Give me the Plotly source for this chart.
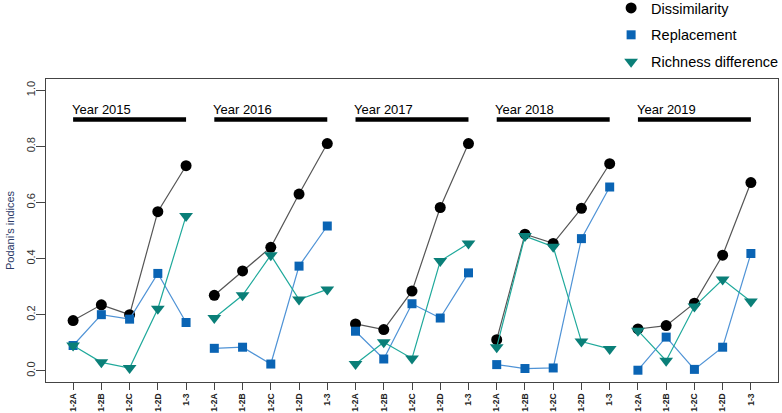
import plotly.graph_objects as go

# data
years = ["2015", "2016", "2017", "2018", "2019"]
sites = ["1-2A", "1-2B", "1-2C", "1-2D", "1-3"]

dissimilarity = [
    [0.179, 0.235, 0.200, 0.567, 0.731],
    [0.269, 0.356, 0.440, 0.630, 0.810],
    [0.167, 0.147, 0.284, 0.582, 0.810],
    [0.111, 0.487, 0.454, 0.579, 0.738],
    [0.149, 0.161, 0.241, 0.412, 0.671],
]
replacement = [
    [0.090, 0.200, 0.184, 0.347, 0.172],
    [0.080, 0.084, 0.024, 0.373, 0.516],
    [0.141, 0.042, 0.239, 0.188, 0.349],
    [0.022, 0.008, 0.010, 0.471, 0.655],
    [0.002, 0.120, 0.005, 0.084, 0.418],
]
richness = [
    [0.090, 0.030, 0.010, 0.221, 0.552],
    [0.188, 0.269, 0.412, 0.254, 0.290],
    [0.024, 0.102, 0.044, 0.391, 0.454],
    [0.084, 0.480, 0.442, 0.104, 0.078],
    [0.143, 0.036, 0.229, 0.325, 0.247],
]

n = len(sites)


def flat(series):
    xs, ys = [], []
    for g, vals in enumerate(series):
        for i, v in enumerate(vals):
            xs.append(g * n + i + 1)
            ys.append(v)
        xs.append(None)
        ys.append(None)
    return xs, ys


styles = [
    ("Dissimilarity", dissimilarity, "#000000", "#555555", "circle", 11),
    ("Replacement", replacement, "#0a64b4", "#4f93d6", "square", 9),
    ("Richness difference", richness, "#0a7f78", "#1fa99b", "triangle-down", 12),
]

fig = go.Figure()
for name, series, mcol, lcol, sym, size in styles:
    xs, ys = flat(series)
    fig.add_trace(go.Scatter(
        x=xs, y=ys, mode="lines+markers", showlegend=False,
        line=dict(color=lcol, width=1.2),
        marker=dict(color=mcol, symbol=sym, size=size, line=dict(width=0)),
    ))
# legend entries (markers only)
for k, (name, series, mcol, lcol, sym, size) in enumerate(styles):
    fig.add_trace(go.Scatter(
        x=[None], y=[None], mode="markers", name=name,
        legendgroup=str(k),
        marker=dict(color=mcol, symbol=sym, size=size, line=dict(width=0)),
    ))

# year labels with black bars
for g, yr in enumerate(years):
    x0 = g * n + 1
    x1 = g * n + n
    fig.add_shape(type="line", x0=x0, x1=x1, y0=0.896, y1=0.896,
                  line=dict(color="black", width=4.5))
    fig.add_annotation(x=x0 - 0.12, y=0.93, text="Year " + yr, showarrow=False,
                       xanchor="left", yanchor="middle",
                       font=dict(size=13, color="black"))

tickvals = [g * n + i + 1 for g in range(len(years)) for i in range(n)]
ticktext = ["<b>" + s + "</b>" for _ in years for s in sites]

fig.update_xaxes(
    range=[0.04, 25.96], tickvals=tickvals, ticktext=ticktext, tickangle=-90,
    showline=True, linecolor="#444", linewidth=1, mirror=True, automargin=False,
    ticks="outside", ticklen=7, tickcolor="#444", showgrid=False, zeroline=False,
    tickfont=dict(size=8.5, color="#222"),
)
fig.update_yaxes(
    range=[-0.04, 1.04], tickvals=[0, 0.2, 0.4, 0.6, 0.8, 1.0],
    ticktext=["0.0", "0.2", "0.4", "0.6", "0.8", "1.0"], tickangle=-90,
    showline=True, linecolor="#444", linewidth=1, mirror=True, automargin=False,
    ticks="outside", ticklen=9, tickcolor="#444", showgrid=False, zeroline=False,
    ticklabelstandoff=-3,
    tickfont=dict(size=11, color="#333"),
    title=dict(text="Podani's indices", font=dict(size=11, color="#2b3a67"), standoff=7),
)

fig.update_layout(
    width=782, height=413,
    margin=dict(l=46, r=4, t=79, b=31, autoexpand=False),
    plot_bgcolor="white", paper_bgcolor="white",
    font=dict(family="Liberation Sans, Arial, sans-serif"),
    legend=dict(x=0.772, y=1.287, xanchor="left", yanchor="top",
                font=dict(size=14.5, color="black"), tracegroupgap=5,
                bgcolor="rgba(0,0,0,0)"),
)

# page body has a default 8px margin; drop it so the figure sits at the corner
fig.write_html("out.html", config={"displayModeBar": False},
               post_script="document.body.style.margin='0';")
